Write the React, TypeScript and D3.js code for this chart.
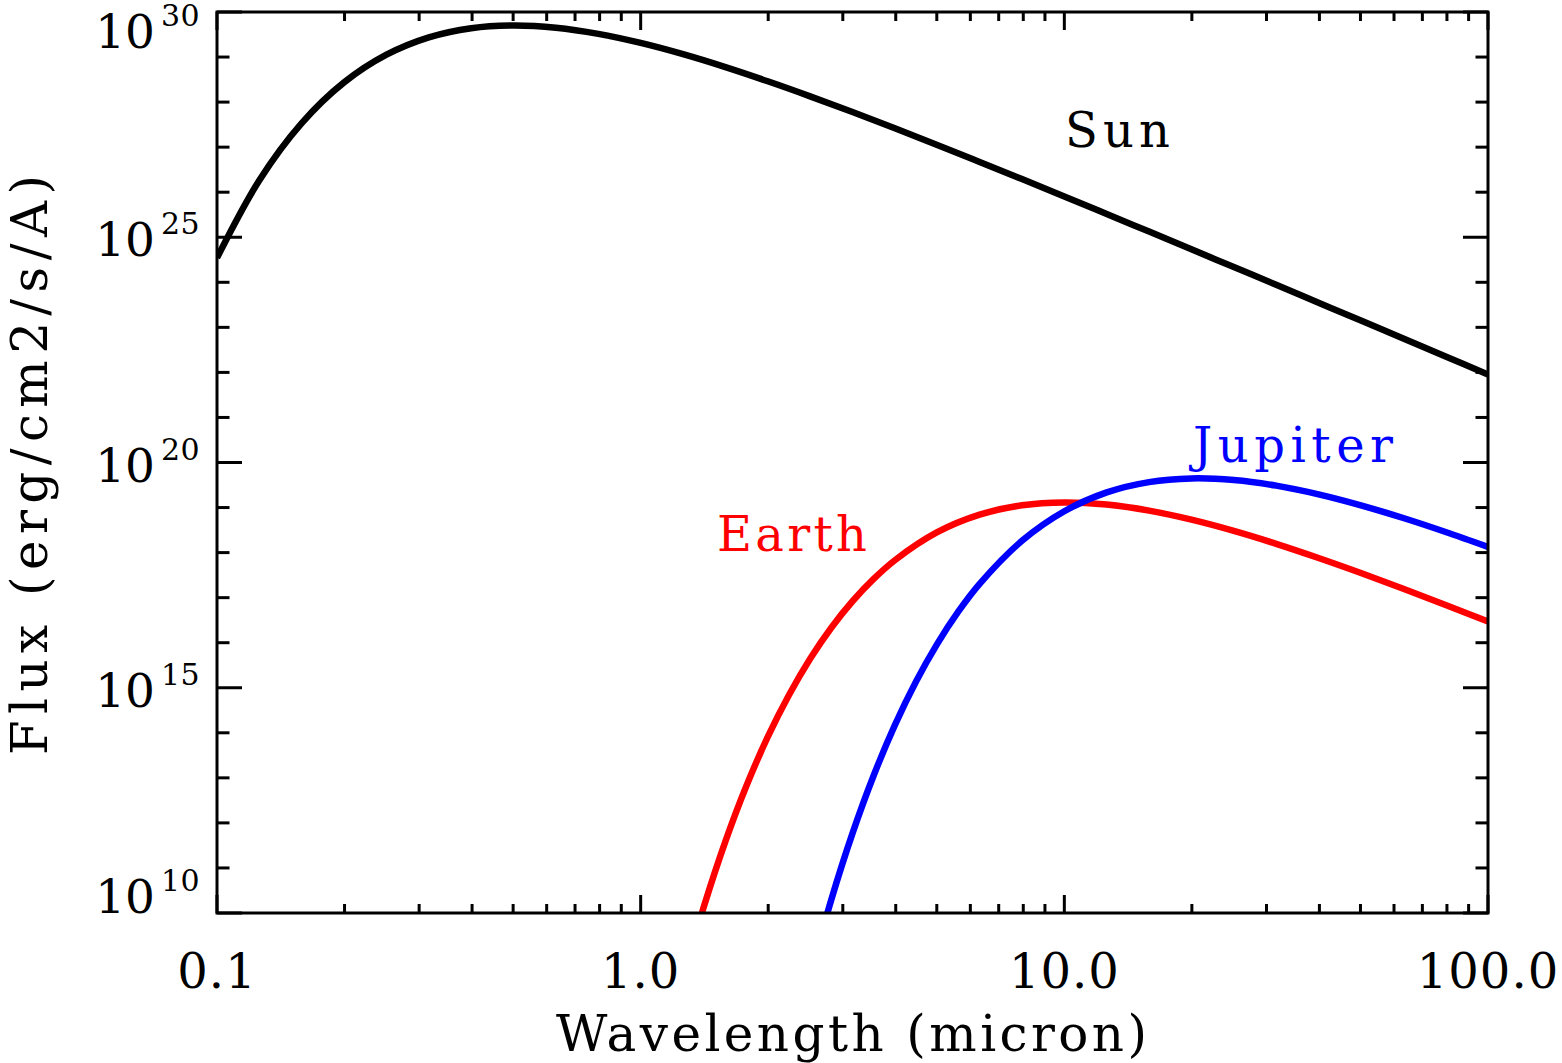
import React from 'react';
import * as d3 from 'd3';

// Wavelength in micron, flux as log10 (erg/cm2/s/A)
const sunWavelength = [0.1, 0.1259, 0.1585, 0.1995, 0.2512, 0.3162, 0.3981, 0.5012, 0.631, 0.7943, 1, 1.259, 1.585, 1.995, 2.512, 3.162, 3.981, 5.012, 6.31, 7.943, 10, 12.59, 15.85, 19.95, 25.12, 31.62, 39.81, 50.12, 63.1, 79.43, 100];
const sunLogFlux = [24.543, 26.267, 27.534, 28.437, 29.052, 29.437, 29.641, 29.702, 29.652, 29.515, 29.313, 29.063, 28.776, 28.462, 28.128, 27.779, 27.418, 27.049, 26.672, 26.291, 25.906, 25.517, 25.126, 24.733, 24.339, 23.944, 23.547, 23.150, 22.752, 22.354, 21.955];

const earthWavelength = [1.259, 1.413, 1.585, 1.778, 1.995, 2.239, 2.512, 2.818, 3.162, 3.548, 3.981, 5.012, 6.31, 7.943, 10, 12.59, 15.85, 19.95, 25.12, 31.62, 39.81, 50.12, 63.1, 79.43, 100];
const earthLogFlux = [8.546, 10.171, 11.591, 12.830, 13.907, 14.839, 15.643, 16.333, 16.920, 17.416, 17.831, 18.452, 18.842, 19.050, 19.114, 19.066, 18.931, 18.730, 18.481, 18.195, 17.881, 17.548, 17.199, 16.838, 16.469];

const jupiterWavelength = [2.512, 2.818, 3.162, 3.548, 3.981, 4.467, 5.012, 5.623, 6.31, 7.943, 10, 12.59, 15.85, 19.95, 25.12, 31.62, 39.81, 50.12, 63.1, 79.43, 100];
const jupiterLogFlux = [8.612, 10.295, 11.767, 13.052, 14.170, 15.139, 15.975, 16.694, 17.307, 18.262, 18.918, 19.336, 19.565, 19.646, 19.611, 19.487, 19.294, 19.050, 18.768, 18.458, 18.127];

const xMajorTicks = [0.1, 1, 10, 100];
const xTickLabels = ['0.1', '1.0', '10.0', '100.0'];
const yMajorExponents = [10, 15, 20, 25, 30];
const yMinorExponents = [11, 12, 13, 14, 16, 17, 18, 19, 21, 22, 23, 24, 26, 27, 28, 29];

const seriesNames = ['Sun', 'Earth', 'Jupiter'];
const seriesColors = ['#000000', '#ff0000', '#0000ff'];

const W = 1562, H = 1063;
const L = 217, R = 1488, T = 12, B = 913;
const FONT = '"DejaVu Serif", "Liberation Serif", serif';

export default function App() {
  const x = d3.scaleLog().domain([0.1, 100]).range([L, R]);
  const y = d3.scaleLog().domain([1e10, 1e30]).range([B, T]);
  const line = d3.line<[number, number]>()
    .x(d => x(d[0]))
    .y(d => y(Math.pow(10, d[1])))
    .curve(d3.curveCatmullRom.alpha(0.5));

  const series = [
    sunWavelength.map((w, i) => [w, sunLogFlux[i]] as [number, number]),
    earthWavelength.map((w, i) => [w, earthLogFlux[i]] as [number, number]),
    jupiterWavelength.map((w, i) => [w, jupiterLogFlux[i]] as [number, number]),
  ];

  const xMinor: number[] = [];
  for (const d of [0.1, 1, 10]) for (let k = 2; k <= 9; k++) xMinor.push(d * k);

  const xMajLen = 18, xMinLen = 9, yMajLen = 25, yMinLen = 12.5;
  const tickStroke = { stroke: '#000', strokeWidth: 3 };

  const labelPos = [
    { x: 1065, y: 147 },
    { x: 717, y: 551 },
    { x: 1193, y: 462 },
  ];
  const labelWidths = [105, 150, 200];

  return (
    <svg width={W} height={H} style={{ position: 'absolute', left: 0, top: 0, display: 'block', background: '#fff' }}
      fontFamily={FONT}>
      <defs>
        <clipPath id="plotclip"><rect x={L} y={T} width={R - L} height={B - T} /></clipPath>
      </defs>
      <rect x={0} y={0} width={W} height={H} fill="#fff" />
      <g clipPath="url(#plotclip)">
        {series.map((s, i) => (
          <path key={i} d={line(s) || ''} fill="none" stroke={seriesColors[i]} strokeWidth={6.5} strokeLinejoin="round" />
        ))}
      </g>
      {/* frame */}
      <rect x={L} y={T} width={R - L} height={B - T} fill="none" stroke="#000" strokeWidth={3} />
      {/* x ticks */}
      {xMajorTicks.map((t, i) => (
        <g key={'xm' + i}>
          <line x1={x(t)} x2={x(t)} y1={B} y2={B - xMajLen} {...tickStroke} />
          <line x1={x(t)} x2={x(t)} y1={T} y2={T + xMajLen} {...tickStroke} />
          <text x={x(t)} y={988} textAnchor="middle" fontSize={48} letterSpacing={1} fill="#000">{xTickLabels[i]}</text>
        </g>
      ))}
      {xMinor.map((t, i) => (
        <g key={'xn' + i}>
          <line x1={x(t)} x2={x(t)} y1={B} y2={B - xMinLen} {...tickStroke} />
          <line x1={x(t)} x2={x(t)} y1={T} y2={T + xMinLen} {...tickStroke} />
        </g>
      ))}
      {/* y ticks */}
      {yMajorExponents.map((e, i) => {
        const yy = y(Math.pow(10, e));
        const base = Math.min(Math.max(yy + 19, T + 36), B);
        return (
          <g key={'ym' + i}>
            <line x1={L} x2={L + yMajLen} y1={yy} y2={yy} {...tickStroke} />
            <line x1={R} x2={R - yMajLen} y1={yy} y2={yy} {...tickStroke} />
            <text x={155} y={base} textAnchor="end" fontSize={47} letterSpacing={0} fill="#000">10</text>
            <text x={161} y={base - 22} textAnchor="start" fontSize={30} letterSpacing={0.5} fill="#000">{String(e)}</text>
          </g>
        );
      })}
      {yMinorExponents.map((e, i) => {
        const yy = y(Math.pow(10, e));
        return (
          <g key={'yn' + i}>
            <line x1={L} x2={L + yMinLen} y1={yy} y2={yy} {...tickStroke} />
            <line x1={R} x2={R - yMinLen} y1={yy} y2={yy} {...tickStroke} />
          </g>
        );
      })}
      {/* axis titles */}
      <text x={556} y={1051} fontSize={50} textLength={591} lengthAdjust="spacing" fill="#000">Wavelength (micron)</text>
      <text transform="translate(47,755) rotate(-90)" x={0} y={0} fontSize={50} textLength={580} lengthAdjust="spacing" fill="#000">Flux (erg/cm2/s/A)</text>
      {/* series labels */}
      {seriesNames.map((n, i) => (
        <text key={n} x={labelPos[i].x} y={labelPos[i].y} fontSize={48} textLength={labelWidths[i]} lengthAdjust="spacing" fill={seriesColors[i]}>{n}</text>
      ))}
    </svg>
  );
}
